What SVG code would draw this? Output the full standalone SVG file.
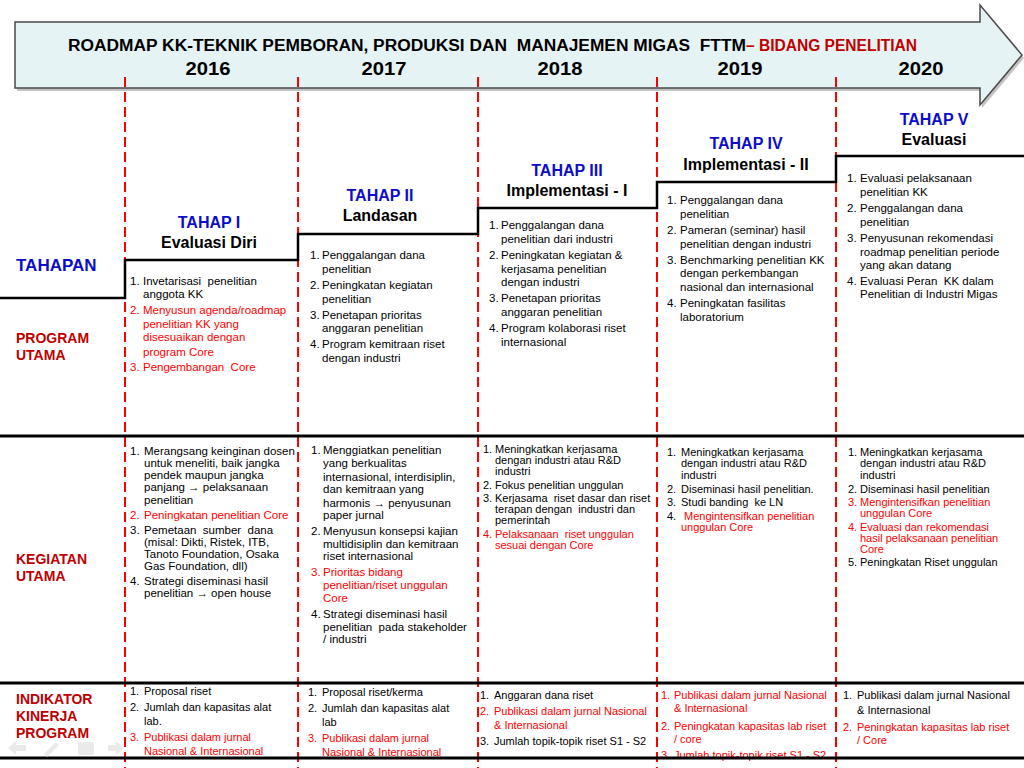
<svg xmlns="http://www.w3.org/2000/svg" width="1024" height="768" viewBox="0 0 1024 768">
<style>
text{font-family:"Liberation Sans",Arial,sans-serif;white-space:pre}
.t{font-size:11.5px;fill:#000}
.s{font-size:11px;fill:#000}
.r{fill:#ff0000}
.lbl{font-size:14px;font-weight:bold;fill:#c00000}
.stg{font-size:16px;font-weight:bold;text-anchor:middle;fill:#000}
.blue{fill:#0c0ccc}
.yr{font-size:19px;font-weight:bold;text-anchor:middle;fill:#000}
.dash{stroke:#ff0000;stroke-width:2;stroke-dasharray:10 5;fill:none}
.hl{stroke:#000;stroke-width:3;fill:none}
</style>
<rect width="1024" height="768" fill="#fff"/>
<g id="header">
<path d="M17,25 H982 V8 L1024,58 L982,108 V91 H17 Z" fill="#888" opacity="0.5"/>
<path d="M15,22 H980 V5 L1022,55 L980,105 V88 H15 Z" fill="#e5f3f5" stroke="#4a4a4a" stroke-width="1.5"/>
<text x="68" y="51" font-size="16" font-weight="bold" fill="#000" textLength="678" lengthAdjust="spacingAndGlyphs">ROADMAP KK-TEKNIK PEMBORAN, PRODUKSI DAN  MANAJEMEN MIGAS  FTTM</text>
<text x="746" y="51" font-size="16" font-weight="bold" fill="#c00000" textLength="171" lengthAdjust="spacingAndGlyphs">– BIDANG PENELITIAN</text>
<text class="yr" x="208" y="75" textLength="45" lengthAdjust="spacingAndGlyphs">2016</text>
<text class="yr" x="384" y="75" textLength="45" lengthAdjust="spacingAndGlyphs">2017</text>
<text class="yr" x="560" y="75" textLength="45" lengthAdjust="spacingAndGlyphs">2018</text>
<text class="yr" x="740" y="75" textLength="45" lengthAdjust="spacingAndGlyphs">2019</text>
<text class="yr" x="921" y="75" textLength="45" lengthAdjust="spacingAndGlyphs">2020</text>
</g>
<g id="connectors">
<path class="dash" d="M125,77 V768 M298,77 V768 M478,77 V768 M657,77 V768 M836,77 V768"/>
<path d="M0,298 H125 V260 H298 V234 H478 V208 H657 V182 H836 V156 H1024" stroke="#000" stroke-width="2.5" fill="none"/>
<path class="hl" d="M0,436 H1024 M0,683 H1024"/>
</g>
<g id="row-labels">
<text x="16" y="271" font-size="17" font-weight="bold" class="blue">TAHAPAN</text>
<text class="lbl"><tspan x="16" y="343">PROGRAM</tspan><tspan x="16" y="360">UTAMA</tspan></text>
<text class="lbl"><tspan x="16" y="564">KEGIATAN</tspan><tspan x="16" y="581">UTAMA</tspan></text>
<text class="lbl"><tspan x="16" y="704">INDIKATOR</tspan><tspan x="16" y="721">KINERJA</tspan><tspan x="16" y="738">PROGRAM</tspan></text>
</g>
<g id="tahap1">
<text class="stg blue" x="209" y="228">TAHAP I</text>
<text class="stg" x="209" y="248">Evaluasi Diri</text>
<text class="t"><tspan x="130" y="285">1.</tspan><tspan x="143">Invetarisasi  penelitian</tspan><tspan x="143" y="298">anggota KK</tspan></text>
<text class="t r"><tspan x="130" y="314">2.</tspan><tspan x="143">Menyusun agenda/roadmap</tspan><tspan x="143" y="328">penelitian KK yang</tspan><tspan x="143" y="341">disesuaikan dengan</tspan><tspan x="143" y="356">program Core</tspan><tspan x="130" y="371">3.</tspan><tspan x="143">Pengembangan  Core</tspan></text>
</g>
<g id="tahap2">
<text class="stg blue" x="380" y="201">TAHAP II</text>
<text class="stg" x="380" y="221">Landasan</text>
<text class="t"><tspan x="310" y="259">1.</tspan><tspan x="322">Penggalangan dana</tspan><tspan x="322" y="273">penelitian</tspan><tspan x="310" y="289">2.</tspan><tspan x="322">Peningkatan kegiatan</tspan><tspan x="322" y="303">penelitian</tspan><tspan x="310" y="319">3.</tspan><tspan x="322">Penetapan prioritas</tspan><tspan x="322" y="332">anggaran penelitian</tspan><tspan x="310" y="348">4.</tspan><tspan x="322">Program kemitraan riset</tspan><tspan x="322" y="362">dengan industri</tspan></text>
</g>
<g id="tahap3">
<text class="stg blue" x="567" y="176">TAHAP III</text>
<text class="stg" x="567" y="196">Implementasi - I</text>
<text class="t"><tspan x="489" y="229">1.</tspan><tspan x="501">Penggalangan dana</tspan><tspan x="501" y="243">penelitian dari industri</tspan><tspan x="489" y="259">2.</tspan><tspan x="501">Peningkatan kegiatan &amp;</tspan><tspan x="501" y="273">kerjasama penelitian</tspan><tspan x="501" y="286">dengan industri</tspan><tspan x="489" y="302">3.</tspan><tspan x="501">Penetapan prioritas</tspan><tspan x="501" y="316">anggaran penelitian</tspan><tspan x="489" y="332">4.</tspan><tspan x="501">Program kolaborasi riset</tspan><tspan x="501" y="346">internasional</tspan></text>
</g>
<g id="tahap4">
<text class="stg blue" x="746" y="149">TAHAP IV</text>
<text class="stg" x="746" y="170">Implementasi - II</text>
<text class="t"><tspan x="667" y="204">1.</tspan><tspan x="680">Penggalangan dana</tspan><tspan x="680" y="218">penelitian</tspan><tspan x="667" y="234">2.</tspan><tspan x="680">Pameran (seminar) hasil</tspan><tspan x="680" y="248">penelitian dengan industri</tspan><tspan x="667" y="264">3.</tspan><tspan x="680">Benchmarking penelitian KK</tspan><tspan x="680" y="277">dengan perkembangan</tspan><tspan x="680" y="291">nasional dan internasional</tspan><tspan x="667" y="307">4.</tspan><tspan x="680">Peningkatan fasilitas</tspan><tspan x="680" y="321">laboratorium</tspan></text>
</g>
<g id="tahap5">
<text class="stg blue" x="934" y="125">TAHAP V</text>
<text class="stg" x="934" y="145">Evaluasi</text>
<text class="t"><tspan x="847" y="182">1.</tspan><tspan x="860">Evaluasi pelaksanaan</tspan><tspan x="860" y="196">penelitian KK</tspan><tspan x="847" y="212">2.</tspan><tspan x="860">Penggalangan dana</tspan><tspan x="860" y="226">penelitian</tspan><tspan x="847" y="242">3.</tspan><tspan x="860">Penyusunan rekomendasi</tspan><tspan x="860" y="256">roadmap penelitian periode</tspan><tspan x="860" y="269">yang akan datang</tspan><tspan x="847" y="285">4.</tspan><tspan x="860">Evaluasi Peran  KK dalam</tspan><tspan x="860" y="298">Penelitian di Industri Migas</tspan></text>
</g>
<g id="kegiatan-2016">
<text class="t"><tspan x="130" y="455">1.</tspan><tspan x="144">Merangsang keinginan dosen</tspan><tspan x="144" y="467">untuk meneliti, baik jangka</tspan><tspan x="144" y="479">pendek maupun jangka</tspan><tspan x="144" y="491">panjang → pelaksanaan</tspan><tspan x="144" y="504">penelitian</tspan></text>
<text class="t r"><tspan x="130" y="519">2.</tspan><tspan x="144">Peningkatan penelitian Core</tspan></text>
<text class="t"><tspan x="130" y="534">3.</tspan><tspan x="144">Pemetaan  sumber  dana</tspan><tspan x="144" y="546">(misal: Dikti, Ristek, ITB,</tspan><tspan x="144" y="558">Tanoto Foundation, Osaka</tspan><tspan x="144" y="570">Gas Foundation, dll)</tspan><tspan x="130" y="585">4.</tspan><tspan x="144">Strategi diseminasi hasil</tspan><tspan x="144" y="597">penelitian → open house</tspan></text>
</g>
<g id="kegiatan-2017">
<text class="t"><tspan x="311" y="454">1.</tspan><tspan x="323">Menggiatkan penelitian</tspan><tspan x="323" y="467">yang berkualitas</tspan><tspan x="323" y="481">internasional, interdisiplin,</tspan><tspan x="323" y="493">dan kemitraan yang</tspan><tspan x="323" y="507">harmonis → penyusunan</tspan><tspan x="323" y="519">paper jurnal</tspan><tspan x="311" y="535">2.</tspan><tspan x="323">Menyusun konsepsi kajian</tspan><tspan x="323" y="548">multidisiplin dan kemitraan</tspan><tspan x="323" y="560">riset internasional</tspan></text>
<text class="t r"><tspan x="311" y="576">3.</tspan><tspan x="323">Prioritas bidang</tspan><tspan x="323" y="589">penelitian/riset unggulan</tspan><tspan x="323" y="602">Core</tspan></text>
<text class="t"><tspan x="311" y="618">4.</tspan><tspan x="323">Strategi diseminasi hasil</tspan><tspan x="323" y="631">penelitian  pada stakeholder</tspan><tspan x="323" y="643">/ industri</tspan></text>
</g>
<g id="kegiatan-2018">
<text class="s"><tspan x="483" y="453">1.</tspan><tspan x="495">Meningkatkan kerjasama</tspan><tspan x="495" y="464">dengan industri atau R&amp;D</tspan><tspan x="495" y="475">industri</tspan><tspan x="483" y="489">2.</tspan><tspan x="495">Fokus penelitian unggulan</tspan><tspan x="483" y="502">3.</tspan><tspan x="495">Kerjasama  riset dasar dan riset</tspan><tspan x="495" y="513">terapan dengan  industri dan</tspan><tspan x="495" y="524">pemerintah</tspan></text>
<text class="s r"><tspan x="483" y="538">4.</tspan><tspan x="495">Pelaksanaan  riset unggulan</tspan><tspan x="495" y="549">sesuai dengan Core</tspan></text>
</g>
<g id="kegiatan-2019">
<text class="s"><tspan x="667" y="456">1.</tspan><tspan x="681">Meningkatkan kerjasama</tspan><tspan x="681" y="467">dengan industri atau R&amp;D</tspan><tspan x="681" y="479">industri</tspan><tspan x="667" y="493">2.</tspan><tspan x="681">Diseminasi hasil penelitian.</tspan><tspan x="667" y="506">3.</tspan><tspan x="681">Studi banding  ke LN</tspan><tspan x="667" y="520">4.</tspan></text>
<text class="s r"><tspan x="684" y="520">Mengintensifkan penelitian</tspan><tspan x="681" y="531">unggulan Core</tspan></text>
</g>
<g id="kegiatan-2020">
<text class="s"><tspan x="848" y="456">1.</tspan><tspan x="860">Meningkatkan kerjasama</tspan><tspan x="860" y="467">dengan industri atau R&amp;D</tspan><tspan x="860" y="479">industri</tspan><tspan x="848" y="493">2.</tspan><tspan x="860">Diseminasi hasil penelitian</tspan></text>
<text class="s r"><tspan x="848" y="506">3.</tspan><tspan x="860">Mengintensifkan penelitian</tspan><tspan x="860" y="517">unggulan Core</tspan><tspan x="848" y="531">4.</tspan><tspan x="860">Evaluasi dan rekomendasi</tspan><tspan x="860" y="542">hasil pelaksanaan penelitian</tspan><tspan x="860" y="553">Core</tspan></text>
<text class="s"><tspan x="848" y="566">5.</tspan><tspan x="860">Peningkatan Riset unggulan</tspan></text>
</g>
<g id="indikator-2016">
<text class="s"><tspan x="130" y="695">1.</tspan><tspan x="144">Proposal riset</tspan><tspan x="130" y="711">2.</tspan><tspan x="144">Jumlah dan kapasitas alat</tspan><tspan x="144" y="725">lab.</tspan></text>
<text class="s r"><tspan x="130" y="741">3.</tspan><tspan x="144">Publikasi dalam jurnal</tspan><tspan x="144" y="755">Nasional &amp; Internasional</tspan></text>
</g>
<g id="indikator-2017">
<text class="s"><tspan x="308" y="696">1.</tspan><tspan x="322">Proposal riset/kerma</tspan><tspan x="308" y="712">2.</tspan><tspan x="322">Jumlah dan kapasitas alat</tspan><tspan x="322" y="726">lab</tspan></text>
<text class="s r"><tspan x="308" y="742">3.</tspan><tspan x="322">Publikasi dalam jurnal</tspan><tspan x="322" y="756">Nasional &amp; Internasional</tspan></text>
</g>
<g id="indikator-2018">
<text class="s"><tspan x="480" y="699">1.</tspan><tspan x="494">Anggaran dana riset</tspan></text>
<text class="s r"><tspan x="480" y="715">2.</tspan><tspan x="494">Publikasi dalam jurnal Nasional</tspan><tspan x="494" y="729">&amp; Internasional</tspan></text>
<text class="s"><tspan x="480" y="745">3.</tspan><tspan x="494">Jumlah topik-topik riset S1 - S2</tspan></text>
</g>
<g id="indikator-2019">
<text class="s r"><tspan x="661" y="699">1.</tspan><tspan x="674">Publikasi dalam jurnal Nasional</tspan><tspan x="674" y="712">&amp; Internasional</tspan><tspan x="661" y="730">2.</tspan><tspan x="674">Peningkatan kapasitas lab riset</tspan><tspan x="674" y="743">/ core</tspan><tspan x="661" y="759">3.</tspan><tspan x="674">Jumlah topik-topik riset S1 - S2</tspan></text>
</g>
<g id="indikator-2020">
<text class="s"><tspan x="843" y="699">1.</tspan><tspan x="857">Publikasi dalam jurnal Nasional</tspan><tspan x="857" y="714">&amp; Internasional</tspan></text>
<text class="s r"><tspan x="843" y="731">2.</tspan><tspan x="857">Peningkatan kapasitas lab riset</tspan><tspan x="857" y="744">/ Core</tspan></text>
</g>
<g id="bottom-line">
<path class="hl" d="M0,758 H1024"/>
</g>
<g id="nav-icons" fill="#e6e6e6" opacity="0.8">
<path d="M8,748 L16,741 V745 H26 V751 H16 V755 Z"/>
<path d="M44,754 L56,742 L59,745 L47,757 Z"/>
<rect x="78" y="742" width="16" height="13" rx="2"/>
<path d="M124,748 L116,741 V745 H108 V751 H116 V755 Z"/>
</g>
</svg>
